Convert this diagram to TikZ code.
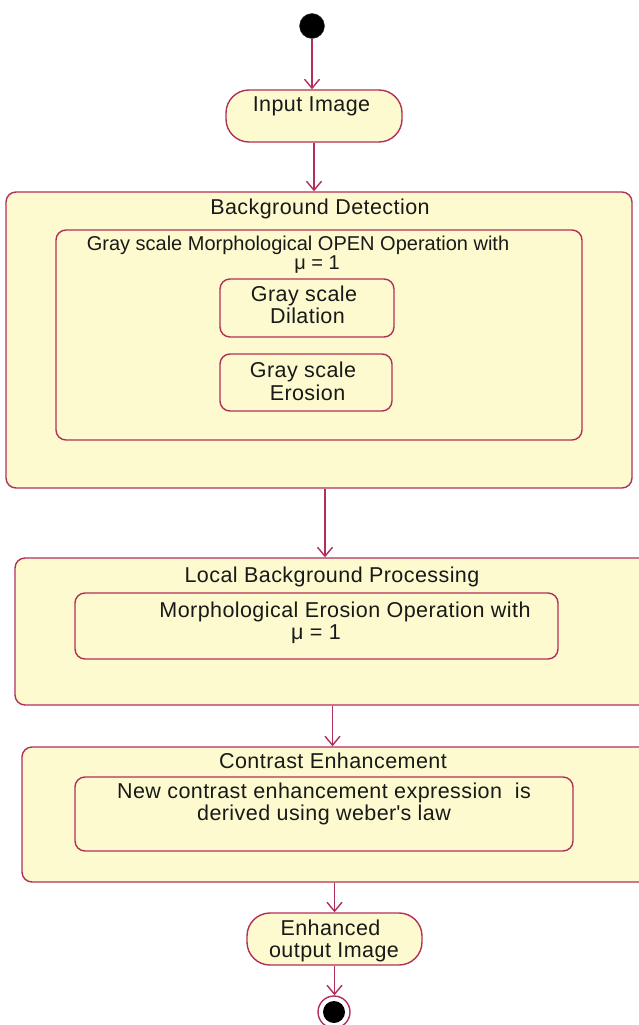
\documentclass[tikz,border=0pt]{standalone}
\usepackage{fontspec}
\setmainfont{Liberation Sans}
\usetikzlibrary{arrows.meta}
\definecolor{fillc}{RGB}{252,250,206}
\definecolor{bord}{RGB}{178,48,88}
\definecolor{txtc}{RGB}{25,25,25}
\tikzset{
  box/.style={draw=bord, fill=fillc, line width=1.4pt, rounded corners=10pt, inner sep=0pt},
  inbox/.style={draw=bord, line width=1.4pt, rounded corners=10pt, inner sep=0pt},
  stadium/.style={draw=bord, fill=fillc, line width=1.4pt, rounded corners=23pt, inner sep=0pt},
  txt/.style={text=txtc, font=\fontsize{21.5}{23}\selectfont\addfontfeatures{LetterSpace=2}, anchor=base, inner sep=0pt},
  smalltxt/.style={text=txtc, font=\fontsize{20}{22}\selectfont, anchor=base, inner sep=0pt},
  arr/.style={draw=bord, line width=1.4pt, -{Straight Barb[length=9pt,width=15pt,line width=1.4pt]}},
}
\begin{document}
\begin{tikzpicture}[x=1pt,y=-1pt]
\useasboundingbox (0,0) rectangle (639,1025);
\fill[white] (0,0) rectangle (639,1025);

% start
\node[circle, fill=black, draw=black!80, minimum size=25pt, inner sep=0pt] (start) at (312,26) {};

% input image
\node[stadium, minimum width=176pt, minimum height=52pt] (input) at (314,116) {};
\node[txt] (tinput) at (311.5,111) {Input Image};

% background detection
\node[box, minimum width=626pt, minimum height=296pt] (bd) at (319,340) {};
\node[txt] (tbd) at (320,214) {Background Detection};
\node[inbox, minimum width=526pt, minimum height=210pt] (bdin) at (319,335) {};
\node[smalltxt] (topen) at (298,250) {Gray scale Morphological OPEN Operation with};
\node[smalltxt] (tmu1) at (317,269) {μ = 1};
\node[inbox, minimum width=174pt, minimum height=58pt] (dil) at (307,308) {};
\node[txt] (tdil1) at (304,301) {Gray scale};
\node[txt] (tdil2) at (307.5,323) {Dilation};
\node[inbox, minimum width=172pt, minimum height=57pt] (ero) at (306,382.5) {};
\node[txt] (tero1) at (303,377) {Gray scale};
\node[txt] (tero2) at (307.5,400) {Erosion};

% local background processing
\node[box, minimum width=635pt, minimum height=147pt] (lbp) at (332.5,631.5) {};
\node[txt] (tlbp) at (332,582) {Local Background Processing};
\node[inbox, minimum width=483pt, minimum height=66pt] (lbpin) at (316.5,626) {};
\node[txt] (tmorph) at (345,617) {Morphological Erosion Operation with};
\node[txt] (tmu2) at (316,639) {μ = 1};

% contrast enhancement
\node[box, minimum width=628pt, minimum height=135pt] (ce) at (336,814.5) {};
\node[txt] (tce) at (333,768) {Contrast Enhancement};
\node[inbox, minimum width=498pt, minimum height=74pt] (cein) at (324,814) {};
\node[txt] (tnew1) at (324,798) {New contrast enhancement expression\ \ is};
\node[txt] (tnew2) at (324,820) {derived using weber\textquotesingle s law};

% output
\node[stadium, minimum width=175pt, minimum height=52pt] (out) at (334.5,939) {};
\node[txt] (tout1) at (330.5,935) {Enhanced};
\node[txt] (tout2) at (334,957) {output Image};

% end
\node[circle, draw=bord, line width=1.4pt, fill=white, minimum size=32pt, inner sep=0pt] (end) at (334,1012) {};
\node[circle, fill=black, minimum size=22pt, inner sep=0pt] (enddot) at (end) {};

% connectors
\draw[arr] (start) -- (start |- input.north);
\draw[arr] (input.south) -- (input.south |- bd.north);
\draw[arr] ([xshift=6pt]bd.south) -- ([xshift=6pt]bd.south |- lbp.north);
\draw[arr] (lbp.south) -- (lbp.south |- ce.north);
\draw[arr] (out.north |- ce.south) -- (out.north);
\draw[arr] (out.south) -- (out.south |- end.north);
\end{tikzpicture}
\end{document}
